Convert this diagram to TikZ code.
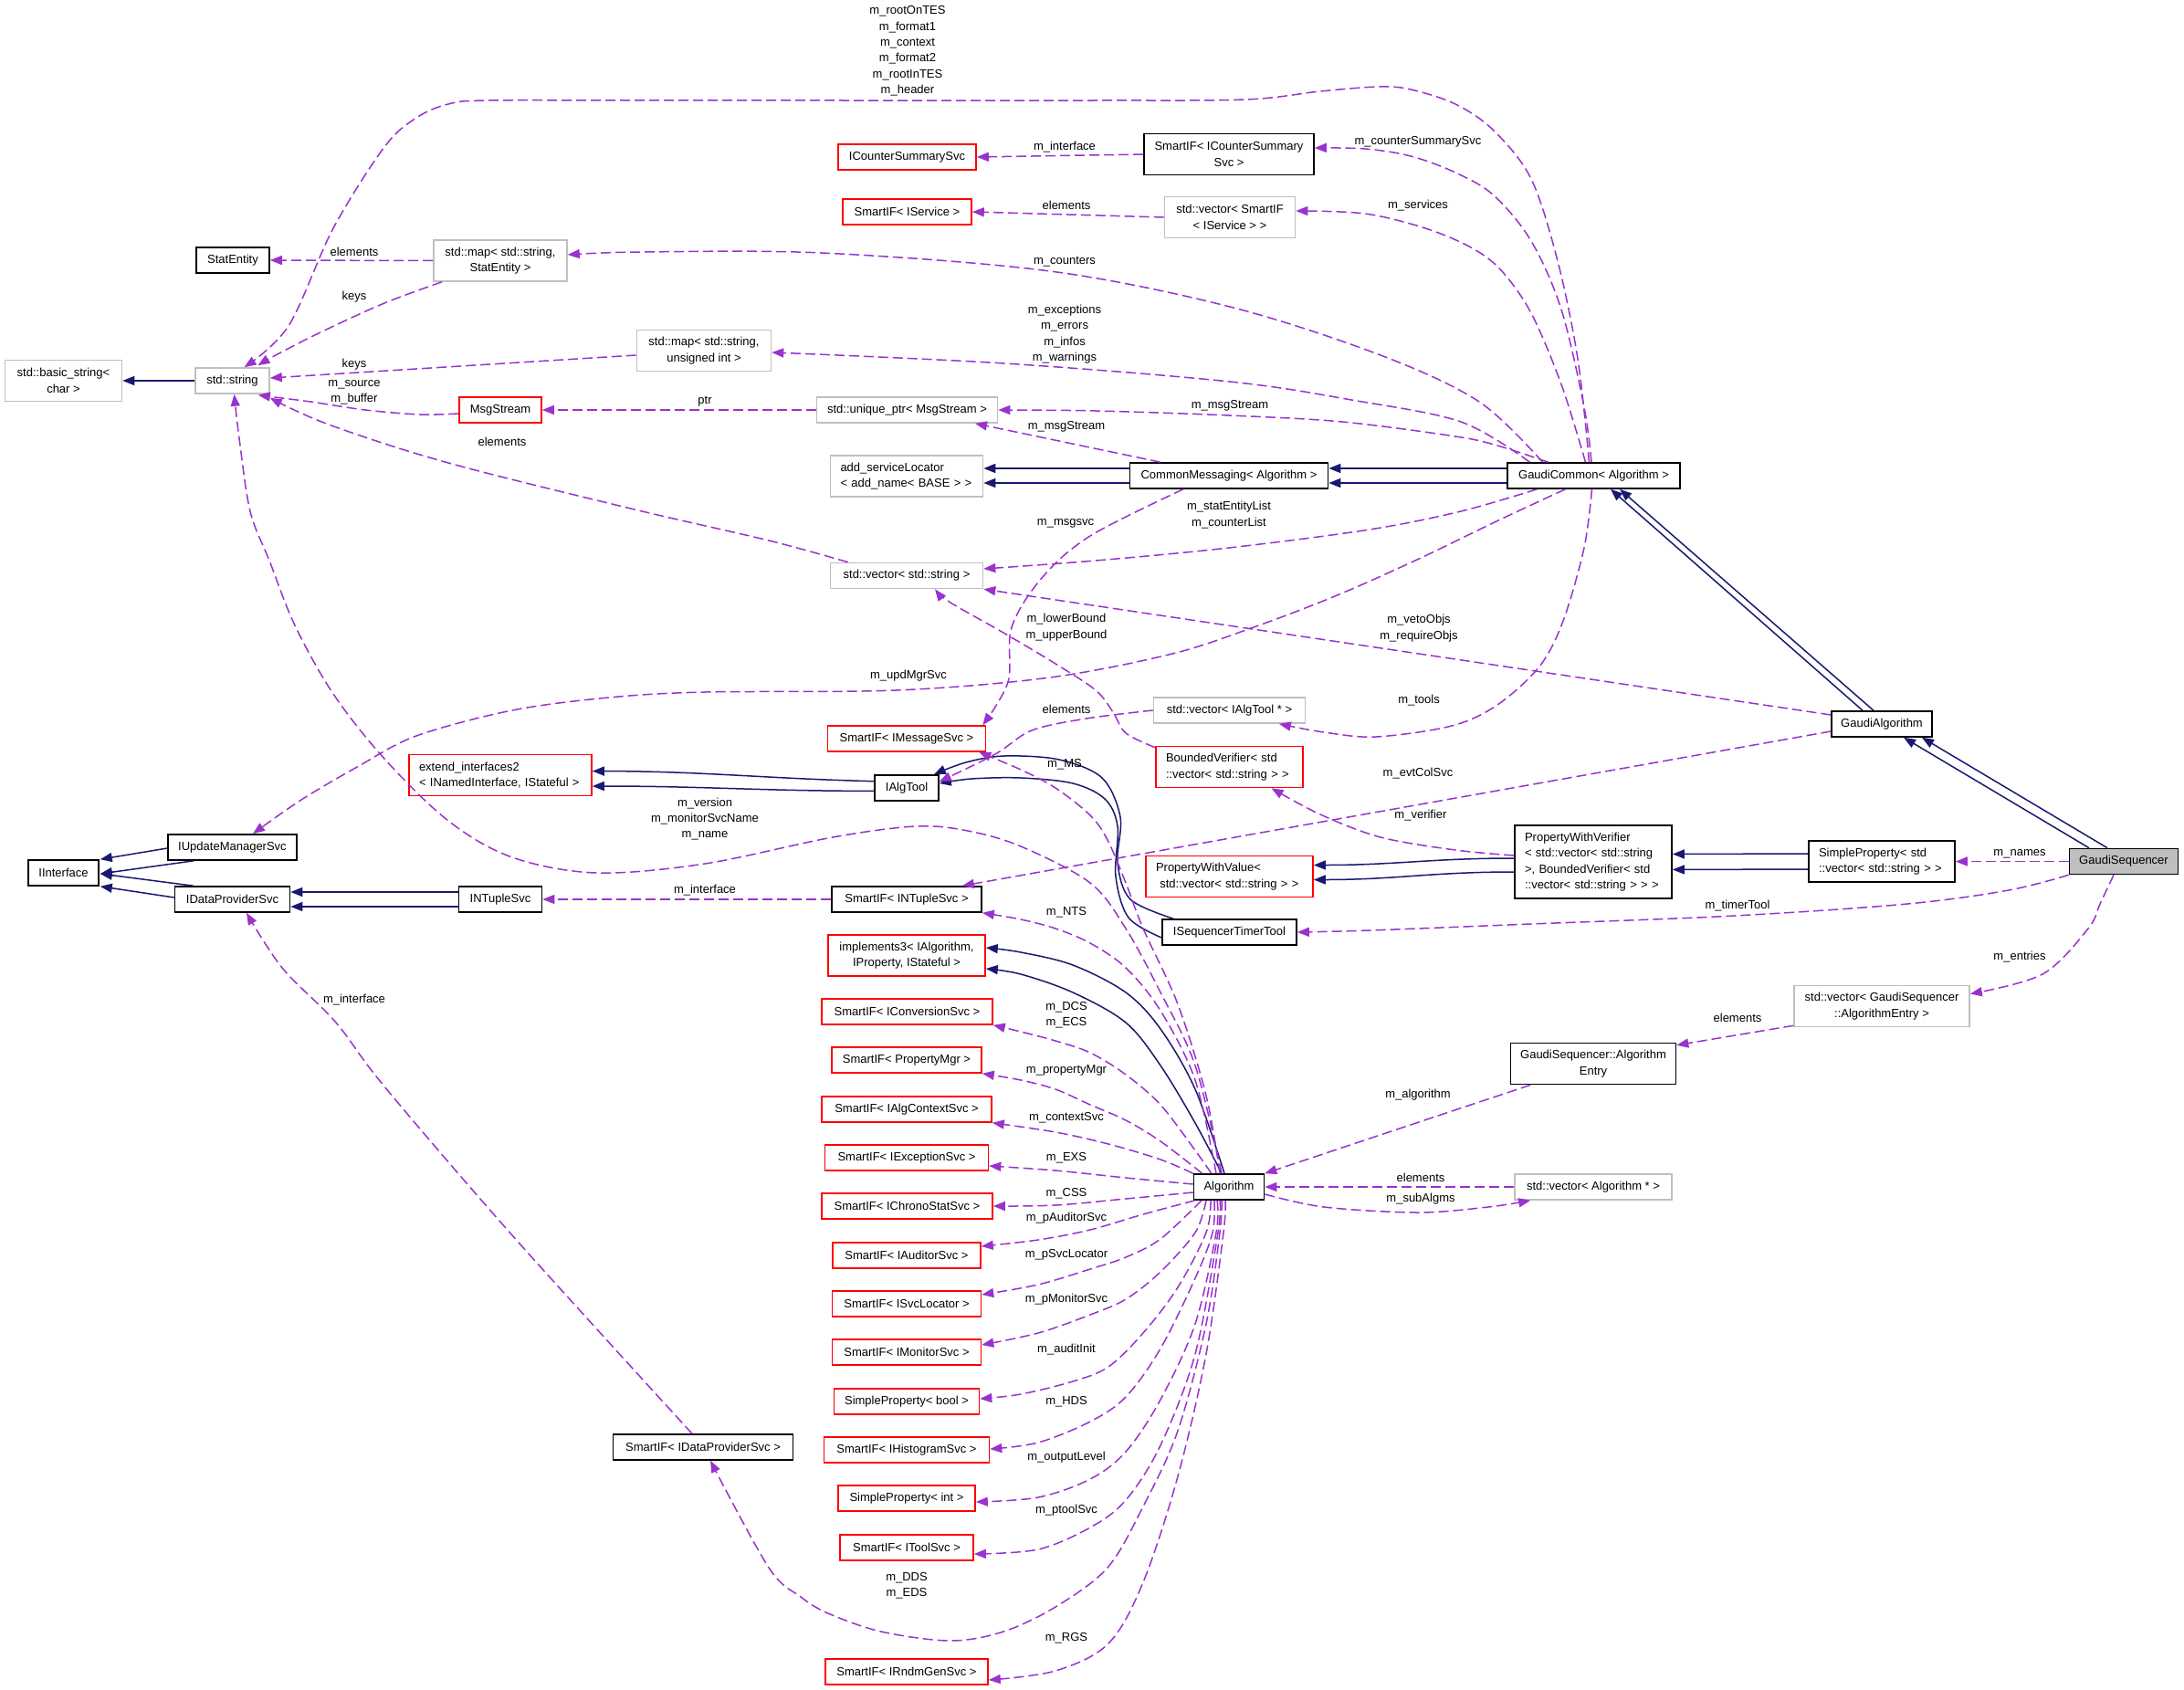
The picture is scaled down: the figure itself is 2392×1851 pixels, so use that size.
\documentclass[tikz,border=0pt]{standalone}
\usepackage{fontspec}
\setmainfont{Liberation Sans}
\usetikzlibrary{arrows.meta,calc}
\definecolor{edgeblue}{HTML}{191970}
\definecolor{edgepurple}{HTML}{9A32CD}
\definecolor{boxred}{HTML}{FF0000}
\definecolor{boxgray}{HTML}{BFBFBF}
\newcommand\dgfont{\fontsize{13pt}{17.4pt}\selectfont}
\begin{document}
\begin{tikzpicture}[x=1pt,y=-1pt,
  cls/.style={draw, line width=1.6pt, inner sep=0pt, minimum height=28pt, align=center, font=\dgfont},
  kbox/.style={cls, draw=black},
  rbox/.style={cls, draw=boxred},
  gbox/.style={cls, draw=boxgray},
  tall/.style={minimum height=45pt},
  inh/.style={draw=edgeblue, line width=1.5pt, -{Triangle[length=13pt,width=10pt]}},
  dep/.style={draw=edgepurple, line width=1.5pt, dash pattern=on 11pt off 5pt, -{Triangle[length=13pt,width=10pt]}},
  lbl/.style={font=\dgfont, inner sep=0pt, align=center},
  sm/.style={smooth, tension=0.55}
]
\useasboundingbox (0,0) rectangle (2392,1851);
\fill[white] (0,0) rectangle (2392,1851);

% ---------------- nodes
\node[gbox, tall, minimum width=128pt] (bstr) at (69.5,417) {std::basic\_string<\\char >};
\node[gbox, minimum width=81pt] (str) at (254.5,417) {std::string};
\node[kbox, minimum width=80pt] (stat) at (255,285) {StatEntity};
\node[gbox, tall, minimum width=146pt] (mapse) at (548,285.5) {std::map< std::string,\\StatEntity >};
\node[rbox, minimum width=151pt] (icss) at (993.5,172) {ICounterSummarySvc};
\node[rbox, minimum width=141pt] (sfsvc) at (993.5,232) {SmartIF< IService >};
\node[kbox, tall, minimum width=186pt] (sficss) at (1346,169) {SmartIF< ICounterSummary\\Svc >};
\node[gbox, tall, minimum width=143pt] (vsfsvc) at (1347,238) {std::vector< SmartIF\\< IService > >};
\node[gbox, tall, minimum width=147pt] (mapui) at (771,384) {std::map< std::string,\\unsigned int >};
\node[rbox, minimum width=90pt] (msgs) at (548,449) {MsgStream};
\node[gbox, minimum width=198pt] (uptr) at (993.5,449) {std::unique\_ptr< MsgStream >};
\node[gbox, tall, minimum width=167pt, text width=145pt, align=left] (asl) at (993,521.5) {add\_serviceLocator\\< add\_name< BASE > >};
\node[kbox, minimum width=217pt] (cm) at (1346,521) {CommonMessaging< Algorithm >};
\node[kbox, minimum width=189pt] (gc) at (1745.5,521) {GaudiCommon< Algorithm >};
\node[gbox, minimum width=167pt] (vstr) at (993,630.5) {std::vector< std::string >};
\node[rbox, minimum width=173pt] (sfmsg) at (993,809) {SmartIF< IMessageSvc >};
\node[kbox, minimum width=70pt] (ialg) at (993,863) {IAlgTool};
\node[gbox, minimum width=166pt] (valg) at (1346.5,778) {std::vector< IAlgTool * >};
\node[rbox, tall, minimum width=161pt, text width=139pt, align=left] (bver) at (1346.5,840) {BoundedVerifier< std\\::vector< std::string > >};
\node[kbox, minimum width=110pt] (ga) at (2061,793) {GaudiAlgorithm};
\node[kbox, fill=boxgray, minimum width=119pt] (gs) at (2326,943.5) {GaudiSequencer};
\node[kbox, tall, minimum width=160pt, text width=138pt, align=left] (spv) at (2061,943.5) {SimpleProperty< std\\::vector< std::string > >};
\node[kbox, minimum height=80pt, minimum width=172pt, text width=150pt, align=left] (pwver) at (1745,944) {PropertyWithVerifier\\< std::vector< std::string\\>, BoundedVerifier< std\\::vector< std::string > > >};
\node[rbox, tall, minimum width=183pt, text width=161pt, align=left] (pwval) at (1346.5,960) {PropertyWithValue<\\\ std::vector< std::string > >};
\node[kbox, minimum width=147pt] (istt) at (1346.5,1021) {ISequencerTimerTool};
\node[gbox, tall, minimum width=192pt] (vae) at (2061,1102) {std::vector< GaudiSequencer\\::AlgorithmEntry >};
\node[kbox, tall, minimum width=181pt] (ae) at (1745,1165) {GaudiSequencer::Algorithm\\Entry};
\node[kbox, minimum width=77pt] (algo) at (1346,1300) {Algorithm};
\node[gbox, minimum width=172pt] (valgo) at (1745,1300) {std::vector< Algorithm * >};
\node[rbox, tall, minimum width=200pt, text width=178pt, align=left] (ext2) at (548,849) {extend\_interfaces2\\< INamedInterface, IStateful >};
\node[kbox, minimum width=141pt] (iums) at (254.5,928) {IUpdateManagerSvc};
\node[kbox, minimum width=77pt] (iint) at (69.5,956) {IInterface};
\node[kbox, minimum width=126pt] (idps) at (254.5,985) {IDataProviderSvc};
\node[kbox, minimum width=91pt] (ints) at (548,985) {INTupleSvc};
\node[kbox, minimum width=164pt] (sfnts) at (993,985) {SmartIF< INTupleSvc >};
\node[rbox, tall, minimum width=172pt] (impl3) at (993,1046.5) {implements3< IAlgorithm,\\IProperty, IStateful >};
\node[rbox, minimum width=187pt] (sfconv) at (993.5,1108) {SmartIF< IConversionSvc >};
\node[rbox, minimum width=164pt] (sfpm) at (993,1161) {SmartIF< PropertyMgr >};
\node[rbox, minimum width=186pt] (sfctx) at (993,1215) {SmartIF< IAlgContextSvc >};
\node[rbox, minimum width=179pt] (sfexs) at (993,1268) {SmartIF< IExceptionSvc >};
\node[rbox, minimum width=187pt] (sfcss) at (993.5,1321) {SmartIF< IChronoStatSvc >};
\node[rbox, minimum width=162pt] (sfaud) at (993,1375) {SmartIF< IAuditorSvc >};
\node[rbox, minimum width=163pt] (sfsvl) at (993,1428) {SmartIF< ISvcLocator >};
\node[rbox, minimum width=163pt] (sfmon) at (993,1481) {SmartIF< IMonitorSvc >};
\node[rbox, minimum width=159pt] (spbool) at (993,1535) {SimpleProperty< bool >};
\node[rbox, minimum width=181pt] (sfhis) at (993,1588) {SmartIF< IHistogramSvc >};
\node[rbox, minimum width=150pt] (spint) at (993,1641) {SimpleProperty< int >};
\node[rbox, minimum width=146pt] (sftool) at (993,1695) {SmartIF< IToolSvc >};
\node[rbox, minimum width=178pt] (sfrnd) at (993,1831) {SmartIF< IRndmGenSvc >};
\node[kbox, minimum width=197pt] (sfdps) at (770,1585) {SmartIF< IDataProviderSvc >};

% ---------------- inheritance
\draw[inh] (str.west) -- (bstr.east);
\draw[inh] ($(cm.west)+(0,-8)$) -- ($(asl.east)+(0,-8.5)$);
\draw[inh] ($(cm.west)+(0,8)$) -- ($(asl.east)+(0,7.5)$);
\draw[inh] ($(gc.west)+(0,-8)$) -- ($(cm.east)+(0,-8)$);
\draw[inh] ($(gc.west)+(0,8)$) -- ($(cm.east)+(0,8)$);
\draw[inh] ($(ga.north)+(-21,0)$) -- ($(gc.south)+(18.5,0)$);
\draw[inh] ($(ga.north)+(-9,0)$) -- ($(gc.south)+(28.5,0)$);
\draw[inh] ($(gs.north)+(-38,0)$) -- ($(ga.south)+(24,0)$);
\draw[inh] ($(gs.north)+(-18,0)$) -- ($(ga.south)+(44,0)$);
\draw[inh] ($(spv.west)+(0,-8.5)$) -- ($(pwver.east)+(0,-8.5)$);
\draw[inh] ($(spv.west)+(0,8.5)$) -- ($(pwver.east)+(0,8.5)$);
\draw[inh] ($(pwver.west)+(0,-4)$) .. controls +(-90,0) and +(90,0) .. ($(pwval.east)+(0,-12.5)$);
\draw[inh] ($(pwver.west)+(0,11)$) .. controls +(-90,0) and +(90,0) .. ($(pwval.east)+(0,3.5)$);
\draw[inh] ($(ialg.west)+(0,-7.3)$) .. controls +(-120,-3) and +(120,0) .. ($(ext2.east)+(0,-4.4)$);
\draw[inh] ($(ialg.west)+(0,3.4)$) .. controls +(-120,0) and +(120,0) .. ($(ext2.east)+(0,12)$);
\draw[inh] plot[sm] coordinates {($(istt.north west)+(13,0)$) (1238,985) (1224,945) (1227,895) (1207,852) (1160,832) (1100,828) (1058,835) ($(ialg.north east)+(-6,0)$)};
\draw[inh] plot[sm] coordinates {($(istt.west)+(0,6)$) (1236,1005) (1222,960) (1224,905) (1210,875) (1175,858) (1118,852) (1064,853) ($(ialg.east)+(0,-5)$)};
\draw[inh] ($(iums.west)+(0,1)$) -- ($(iint.north east)+(1,0)$);
\draw[inh] ($(iums.south west)+(29,0)$) -- ($(iint.east)+(1,1)$);
\draw[inh] ($(idps.north west)+(21,0)$) -- ($(iint.east)+(1,1)$);
\draw[inh] ($(idps.west)+(0,-2)$) -- ($(iint.south east)+(1,0)$);
\draw[inh] ($(ints.west)+(0,-8)$) -- ($(idps.east)+(0,-8)$);
\draw[inh] ($(ints.west)+(0,8)$) -- ($(idps.east)+(0,8)$);
\draw[inh] plot[sm] coordinates {($(algo.north)+(-5,0)$) (1309,1193) (1271,1127) (1233,1087) (1175,1057) (1118,1043) ($(impl3.east)+(0,-8.5)$)};
\draw[inh] plot[sm] coordinates {($(algo.north)+(-8,0)$) (1309,1230) (1271,1167) (1233,1120) (1175,1087) (1118,1067) ($(impl3.east)+(0,14.5)$)};

% ---------------- usage
\draw[dep] plot[sm] coordinates {($(gc.north)+(-5,0)$) (1728,393) (1706,286) (1677,196) (1636,143) (1594,114) (1545,98) (1510,95) (1446,100) (1364,109) (1200,110) (900,110) (700,110) (533,110) (491,114) (456,129) (421,161) (365,250) (316,357) ($(str.north)+(13,0)$)};
\draw[dep] plot[sm] coordinates {($(gc.north)+(-2.5,0)$) (1735,446) (1710,339) (1677,264) (1636,214) (1594,189) (1545,171) (1495,163) ($(sficss.east)+(0,-7)$)};
\draw[dep] plot[sm] coordinates {($(gc.north)+(-9,0)$) (1710,421) (1677,343) (1644,296) (1611,271) (1561,250) (1495,234) ($(vsfsvc.east)+(0,-7)$)};
\draw[dep] plot[sm] coordinates {($(gc.north)+(-56,0)$) (1620,440) (1512,389) (1347,336) (1150,297) (900,277) (702,276) ($(mapse.east)+(0,-6.5)$)};
\draw[dep] plot[sm] coordinates {($(gc.north)+(-70,0)$) (1600,462) (1480,438) (1347,418) (1100,398) ($(mapui.east)+(0,2)$)};
\draw[dep] plot[sm] coordinates {($(gc.north)+(-50,0)$) (1640,488) (1594,478) (1470,462) (1347,455) (1200,450) (uptr.east)};
\draw[dep] plot[sm] coordinates {($(gc.south)+(-62,0)$) (1600,560) (1500,580) (1346,600) (1200,614) ($(vstr.east)+(0,-7.5)$)};
\draw[dep] plot[sm] coordinates {($(gc.south)+(-31,0)$) (1641,570) (1552,613) (1462,653) (1373,687) (1284,716) (1150,742) (982,756) (772,758) (667,764) (561,778) (456,806) (393,839) (330,876) ($(iums.north)+(22.5,0)$)};
\draw[dep] plot[sm] coordinates {($(gc.south)+(-2,0)$) (1735,600) (1712,680) (1686,730) (1640,772) (1590,795) (1507,807) (1450,802) ($(valg.south east)+(-29.5,0)$)};
\draw[dep] (sficss.west) -- (icss.east);
\draw[dep] (vsfsvc.west) -- (sfsvc.east);
\draw[dep] (mapse.west) -- (stat.east);
\draw[dep] plot[sm] coordinates {($(mapse.south)+(-64,0)$) (421,332) (351,364) (302,389) ($(str.north)+(28,-2)$)};
\draw[dep] ($(mapui.west)+(0,5)$) -- ($(str.east)+(0,-3)$);
\draw[dep] plot[sm] coordinates {($(msgs.west)+(0,4)$) (460,454) (400,449) (340,440) ($(str.south east)+(-13,1)$)};
\draw[dep] (uptr.west) -- (msgs.east);
\draw[dep] ($(cm.north)+(-75,0)$) -- ($(uptr.south)+(74.5,0)$);
\draw[dep] plot[sm] coordinates {($(vstr.north west)+(20,0)$) (842,592) (695,558) (491,507) (360,465) ($(str.south east)+(0,4)$)};
\draw[dep] plot[sm] coordinates {($(cm.south)+(-50,0)$) (1194,587) (1141,633) (1108,687) (1104,747) ($(sfmsg.north east)+(-4,0)$)};
\draw[dep] ($(ga.west)+(0,-10)$) -- (vstr.south east);
\draw[dep] plot[sm] coordinates {($(bver.north west)+(0,2)$) (1233,803) (1219,780) (1200,756) (1156,727) (1099,693) (1041,660) ($(vstr.south)+(31,0)$)};
\draw[dep] plot[sm] coordinates {(valg.west) (1190,787) (1130,800) (1090,826) ($(ialg.east)+(0,-7)$)};
\draw[dep] plot[sm] coordinates {($(algo.north)+(-10,0)$) (1321,1200) (1290,1100) (1252,1017) (1233,967) (1213,920) (1194,893) (1156,863) (1118,843) ($(sfmsg.south east)+(-8,0)$)};
\draw[dep] plot[sm] coordinates {($(algo.north)+(-8,0)$) (1309,1167) (1270,1085) (1233,1017) (1194,967) (1118,927) (1060,910) (1003,905) (912,917) (772,946) (653,956) (561,939) (491,899) (421,831) (365,760) (323,685) (295,614) (274,560) (262,480) ($(str.south)+(2,0)$)};
\draw[dep] plot[sm] coordinates {($(algo.north)+(-14,0)$) (1309,1183) (1271,1107) (1233,1060) (1194,1033) (1156,1017) (1118,1007) (sfnts.south east)};
\draw[dep] ($(ga.west)+(0,8)$) -- ($(sfnts.north east)+(-22,0)$);
\draw[dep] (sfnts.west) -- (ints.east);
\draw[dep] plot[sm] coordinates {($(sfdps.north)+(-12,0)$) (561,1353) (421,1190) (368,1120) (309,1060) ($(idps.south)+(15.5,0)$)};
\draw[dep] plot[sm] coordinates {($(algo.south)+(-8,0)$) (1336,1350) (1321,1450) (1290,1567) (1252,1650) (1213,1717) (1156,1760) (1099,1787) (1041,1797) (965,1787) (907,1767) (877,1749) (842,1717) ($(sfdps.south)+(8,0)$)};
\draw[dep] plot[sm] coordinates {($(algo.north west)+(20,0)$) (1309,1260) (1271,1210) (1233,1177) (1194,1153) (1156,1140) (1118,1130) (sfconv.south east)};
\draw[dep] plot[sm] coordinates {($(algo.north west)+(10,0)$) (1271,1250) (1233,1227) (1194,1210) (1156,1193) (1118,1183) (sfpm.south east)};
\draw[dep] plot[sm] coordinates {(algo.north west) (1271,1270) (1214,1253) (1156,1240) (sfctx.south east)};
\draw[dep] plot[sm] coordinates {($(algo.west)+(0,-3)$) (1233,1290) (1156,1282) ($(sfexs.east)+(0,9)$)};
\draw[dep] plot[sm] coordinates {($(algo.west)+(0,6)$) (1233,1313) (1156,1320) (sfcss.east)};
\draw[dep] plot[sm] coordinates {($(algo.south west)+(2,0)$) (1252,1330) (1194,1347) (1137,1358) ($(sfaud.east)+(0,-10)$)};
\draw[dep] plot[sm] coordinates {($(algo.south)+(-30,0)$) (1271,1357) (1233,1377) (1194,1390) (1137,1407) ($(sfsvl.east)+(0,-10)$)};
\draw[dep] plot[sm] coordinates {($(algo.south)+(-25,0)$) (1309,1350) (1271,1393) (1233,1423) (1194,1440) (1137,1460) ($(sfmon.east)+(0,-8)$)};
\draw[dep] plot[sm] coordinates {($(algo.south)+(-20,0)$) (1321,1350) (1290,1410) (1252,1460) (1214,1497) (1175,1513) (1118,1527) ($(spbool.east)+(0,-3)$)};
\draw[dep] plot[sm] coordinates {($(algo.south)+(-16,0)$) (1328,1350) (1309,1400) (1271,1477) (1233,1530) (1194,1557) (1137,1580) ($(sfhis.east)+(0,-1)$)};
\draw[dep] plot[sm] coordinates {($(algo.south)+(-13,0)$) (1332,1350) (1309,1450) (1271,1533) (1233,1590) (1194,1620) (1137,1640) ($(spint.east)+(0,4)$)};
\draw[dep] plot[sm] coordinates {($(algo.south)+(-10,0)$) (1334,1350) (1309,1483) (1271,1583) (1233,1643) (1194,1673) (1137,1697) ($(sftool.east)+(0,7)$)};
\draw[dep] plot[sm] coordinates {($(algo.south)+(-4,0)$) (1340,1350) (1321,1483) (1290,1617) (1252,1733) (1214,1800) (1156,1830) ($(sfrnd.east)+(0,9)$)};
\draw[dep] (gs.west) -- (spv.east);
\draw[dep] plot[sm] coordinates {(gs.south west) (2200,975) (2089,990) (1900,1003) (1677,1012) (1500,1019) (istt.east)};
\draw[dep] plot[sm] coordinates {($(gs.south)+(-11,0)$) (2300,990) (2287,1017) (2237,1067) ($(vae.east)+(0,-13.5)$)};
\draw[dep] ($(vae.south west)+(0,-2)$) -- ($(ae.north east)+(0,3)$);
\draw[dep] ($(ae.south west)+(22.5,0)$) -- (algo.north east);
\draw[dep] (valgo.west) -- (algo.east);
\draw[dep] plot[sm] coordinates {($(algo.east)+(0,8)$) (1450,1322) (1553,1328) (1630,1322) ($(valgo.south west)+(18,0)$)};
\draw[dep] plot[sm] coordinates {($(pwver.west)+(0,-7)$) (1594,931) (1512,917) (1446,892) ($(bver.south)+(46,0)$)};

% ---------------- labels
\node[lbl] (l01) at (994,56) {m\_rootOnTES\\m\_format1\\m\_context\\m\_format2\\m\_rootInTES\\m\_header};
\node[lbl] (l02) at (1166,161) {m\_interface};
\node[lbl] (l03) at (1553,155) {m\_counterSummarySvc};
\node[lbl] (l04) at (1168,225) {elements};
\node[lbl] (l05) at (1553,225) {m\_services};
\node[lbl] (l06) at (1166,287) {m\_counters};
\node[lbl] (l07) at (388,276) {elements};
\node[lbl] (l08) at (388,325) {keys};
\node[lbl] (l09) at (388,399) {keys};
\node[lbl] (l10) at (1166,366) {m\_exceptions\\m\_errors\\m\_infos\\m\_warnings};
\node[lbl] (l11) at (388,430) {m\_source\\m\_buffer};
\node[lbl] (l12) at (772,440) {ptr};
\node[lbl] (l13) at (1347,444) {m\_msgStream};
\node[lbl] (l14) at (1168,467) {m\_msgStream};
\node[lbl] (l15) at (550,484) {elements};
\node[lbl] (l16) at (1167,573) {m\_msgsvc};
\node[lbl] (l17) at (1346,564) {m\_statEntityList\\m\_counterList};
\node[lbl] (l18) at (1554,688) {m\_vetoObjs\\m\_requireObjs};
\node[lbl] (l19) at (1168,687) {m\_lowerBound\\m\_upperBound};
\node[lbl] (l20) at (995,740) {m\_updMgrSvc};
\node[lbl] (l21) at (1554,767) {m\_tools};
\node[lbl] (l22) at (1168,777) {elements};
\node[lbl] (l23) at (1166,837) {m\_MS};
\node[lbl] (l24) at (772,897) {m\_version\\m\_monitorSvcName\\m\_name};
\node[lbl] (l25) at (1553,847) {m\_evtColSvc};
\node[lbl] (l26) at (1168,999) {m\_NTS};
\node[lbl] (l27) at (772,975) {m\_interface};
\node[lbl] (l28) at (388,1095) {m\_interface};
\node[lbl] (l29) at (993,1737) {m\_DDS\\m\_EDS};
\node[lbl] (l30) at (1168,1112) {m\_DCS\\m\_ECS};
\node[lbl] (l31) at (1168,1172) {m\_propertyMgr};
\node[lbl] (l32) at (1168,1224) {m\_contextSvc};
\node[lbl] (l33) at (1168,1268) {m\_EXS};
\node[lbl] (l34) at (1168,1307) {m\_CSS};
\node[lbl] (l35) at (1168,1334) {m\_pAuditorSvc};
\node[lbl] (l36) at (1168,1374) {m\_pSvcLocator};
\node[lbl] (l37) at (1168,1423) {m\_pMonitorSvc};
\node[lbl] (l38) at (1168,1478) {m\_auditInit};
\node[lbl] (l39) at (1168,1535) {m\_HDS};
\node[lbl] (l40) at (1168,1596) {m\_outputLevel};
\node[lbl] (l41) at (1168,1654) {m\_ptoolSvc};
\node[lbl] (l42) at (1168,1794) {m\_RGS};
\node[lbl] (l43) at (2212,935) {m\_names};
\node[lbl] (l44) at (1903,992) {m\_timerTool};
\node[lbl] (l45) at (2212,1048) {m\_entries};
\node[lbl] (l46) at (1903,1115) {elements};
\node[lbl] (l47) at (1553,1199) {m\_algorithm};
\node[lbl] (l48) at (1556,1290) {elements};
\node[lbl] (l49) at (1556,1313) {m\_subAlgms};
\node[lbl] (l50) at (1556,893) {m\_verifier};
\end{tikzpicture}
\end{document}
